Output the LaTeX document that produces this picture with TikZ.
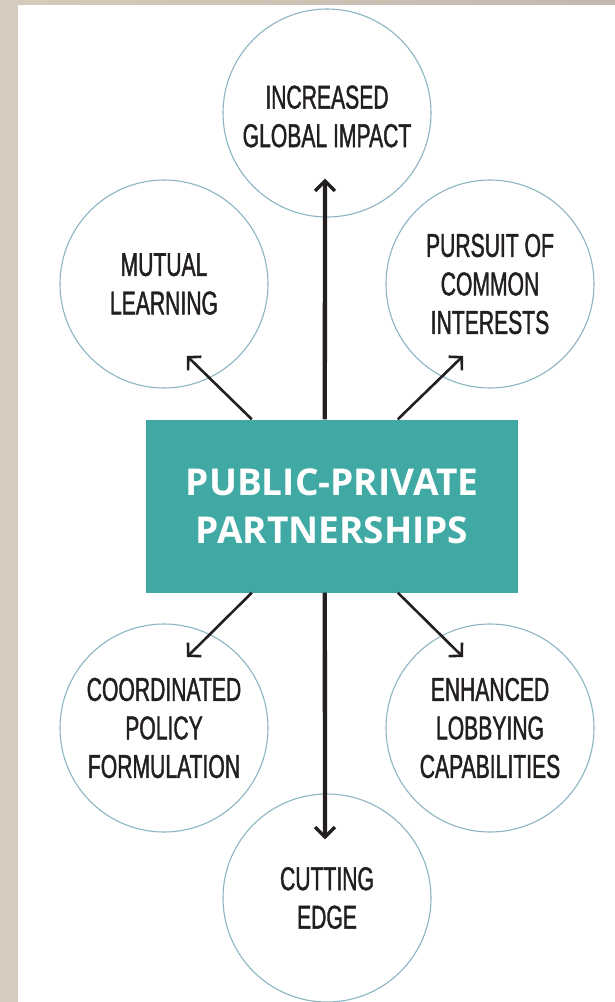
\documentclass[tikz,border=0pt]{standalone}
\usepackage{fontspec}
\setmainfont{Liberation Sans}
\newfontfamily\circfont[FakeStretch=0.64,FakeBold=1.2]{Liberation Sans}
\newfontfamily\boxfont{Open Sans}
\usetikzlibrary{arrows.meta,calc}
\definecolor{tealbox}{HTML}{40A9A4}
\definecolor{ringc}{HTML}{8DB4C2}
\definecolor{inkc}{HTML}{231F20}
\definecolor{beigeA}{HTML}{D6CCBD}
\definecolor{beigeB}{HTML}{C2B8AC}
\tikzset{
  circ/.style={circle, draw=ringc, line width=1.1pt, minimum size=208pt, inner sep=0pt,
    align=center, text=inkc, font=\circfont\fontsize{33}{38.5}\selectfont},
  ppbox/.style={rectangle, fill=tealbox, minimum width=372pt, minimum height=173pt,
    align=center, text=white, font=\boxfont\bfseries\fontsize{37}{48}\selectfont},
  thinarr/.style={draw=inkc, line width=2.6pt, line cap=butt,
    -{Straight Barb[length=9pt,width=19pt,line width=2.6pt]}},
  thickarr/.style={draw=inkc, line width=4.3pt, line cap=butt,
    -{Straight Barb[length=10pt,width=20pt,line width=3.4pt]}}
}
\begin{document}
\begin{tikzpicture}[x=1pt,y=-1pt]
\useasboundingbox (0,0) rectangle (615,1002);
\shade[left color=beigeA, right color=beigeB] (0,0) rectangle (615,6);
\fill[beigeA] (0,0) rectangle (18,1002);
\fill[white] (18,5) rectangle (615,1002);

\node[circ] (inc) at (327,113) {\rule{0pt}{30pt}INCREASED\\GLOBAL IMPACT};
\node[circ] (mut) at (164,284) {MUTUAL\\LEARNING};
\node[circ] (pur) at (490,284) {PURSUIT OF\\COMMON\\INTERESTS};
\node[circ] (coo) at (164,728) {COORDINATED\\POLICY\\FORMULATION};
\node[circ] (enh) at (490,728) {ENHANCED\\LOBBYING\\CAPABILITIES};
\node[circ] (cut) at (327,898) {CUTTING\\EDGE};

\node[ppbox] (ppp) at (332,506) {PUBLIC-PRIVATE\\PARTNERSHIPS};

\coordinate (up) at ($(ppp.north west)+(179,0)$);
\coordinate (dn) at ($(ppp.south west)+(179,0)$);
\draw[thickarr] (up) -- ($(inc.south)+(-2,-39)$);
\draw[thickarr] (dn) -- ($(cut.north)+(-2,46)$);

\draw[thinarr] ($(ppp.north west)+(106,0)$) -- ($(mut.center)+(23,72)$);
\draw[thinarr] ($(ppp.north west)+(252,0)$) -- ($(pur.center)+(-27,72)$);
\draw[thinarr] ($(ppp.south west)+(106,0)$) -- ($(coo.center)+(23,-71)$);
\draw[thinarr] ($(ppp.south west)+(252,0)$) -- ($(enh.center)+(-27,-71)$);
\end{tikzpicture}
\end{document}
